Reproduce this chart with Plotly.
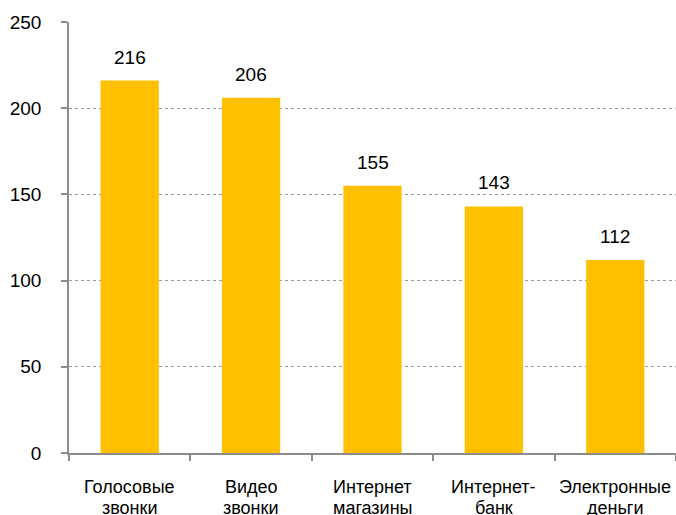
import plotly.graph_objects as go

categories = ["Голосовые<br>звонки", "Видео<br>звонки", "Интернет<br>магазины", "Интернет-<br>банк", "Электронные<br>деньги"]
values = [216, 206, 155, 143, 112]
y_ticks = [0, 50, 100, 150, 200, 250]

FONT = "Liberation Sans, Arial, sans-serif"

fig = go.Figure()
fig.add_trace(go.Bar(
    x=categories, y=values,
    marker=dict(color="#FFC000", line=dict(width=0)),
    width=0.48,
    hoverinfo="skip",
))

for c, v in zip(categories, values):
    fig.add_annotation(x=c, y=v, text=str(v), showarrow=False,
                       yanchor="bottom", yshift=11,
                       font=dict(family=FONT, size=19, color="#000000"))

# category labels, drawn as two tight lines under each category
for c in categories:
    for i, part in enumerate(c.split("<br>")):
        fig.add_annotation(x=c, xref="x", y=0, yref="paper", text=part,
                           showarrow=False, yanchor="middle",
                           yshift=-34 - 20.5 * i,
                           font=dict(family=FONT, size=18, color="#000000"))

fig.update_layout(
    width=676, height=515,
    margin=dict(l=69, r=0, t=22, b=62),
    paper_bgcolor="white", plot_bgcolor="white",
    showlegend=False,
    font=dict(family=FONT, color="#000000"),
    bargap=0.52,
)
fig.update_xaxes(
    type="category",
    showline=True, linecolor="#8c8c8c", linewidth=1.5,
    ticks="outside", tickson="boundaries", ticklen=6, tickcolor="#8c8c8c", tickwidth=1.5,
    showticklabels=False, automargin=False,
    showgrid=False, zeroline=False,
)
fig.update_yaxes(
    range=[0, 250], tickvals=y_ticks,
    showline=True, linecolor="#8c8c8c", linewidth=1.5,
    ticks="outside", ticklen=6, tickcolor="#8c8c8c", tickwidth=1.5,
    tickfont=dict(family=FONT, size=19, color="#000000"),
    ticklabelstandoff=16, automargin=False,
    showgrid=True, gridcolor="#999999", gridwidth=1, griddash="dot",
    zeroline=False,
)

fig.write_html("out.html")
